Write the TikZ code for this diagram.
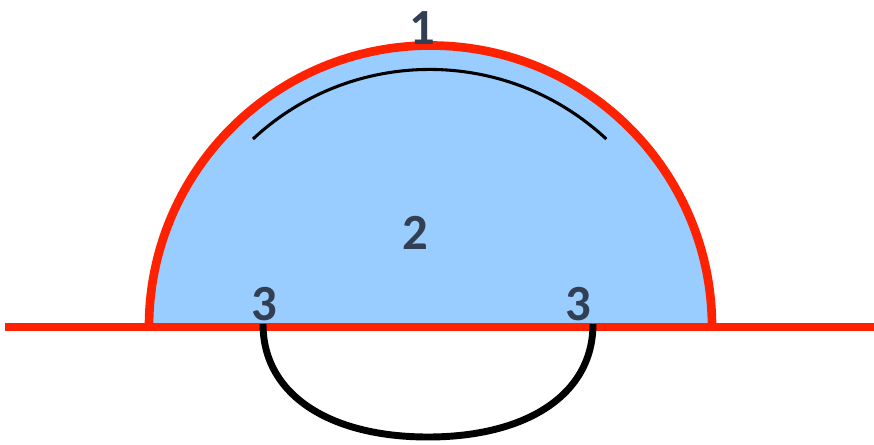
\documentclass[tikz,border=0pt]{standalone}
\usepackage{fontspec}
\setmainfont{Carlito}
\definecolor{fillblue}{RGB}{153,204,255}
\definecolor{edgered}{RGB}{255,34,0}
\definecolor{labelcol}{RGB}{50,63,82}
\begin{document}
\begin{tikzpicture}[x=0.75pt,y=-0.75pt,
  redline/.style={draw=edgered,line width=6.5pt},
  blackarc/.style={draw=black,line width=2.3pt},
  cup/.style={draw=black,line width=5.2pt,line join=round},
  lbl/.style={font=\bfseries\fontsize{38}{40}\selectfont,text=labelcol,anchor=base,inner sep=0pt}]
\useasboundingbox (0,0) rectangle (874,444);
\coordinate (cl) at (149,327);
\coordinate (cr) at (712,327);
\coordinate (ll) at (5,327);
\coordinate (lr) at (874,327);
% dome
\fill[fillblue] (cl) arc[start angle=180,end angle=0,radius=281.5*0.75pt] -- cycle;
\draw[redline] (cl) arc[start angle=180,end angle=0,radius=281.5*0.75pt];
\draw[redline] (ll) -- (lr);
% inner arc
\coordinate (as) at (253,139);
\draw[blackarc] (as) arc[start angle=133,end angle=47,radius=259*0.75pt];
% cup below
\coordinate (ua) at (263,324);
\coordinate (ub) at (428,437);
\coordinate (uc) at (593,324);
\draw[cup] (ua) .. controls (263,395) and (330,437) .. (ub)
                .. controls (526,437) and (593,395) .. (uc);
% labels
\node[lbl] (n1) at (422,44) {1};
\node[lbl] (n2) at (415,249) {2};
\node[lbl] (n3a) at (264,320) {3};
\node[lbl] (n3b) at (578,320) {3};
\end{tikzpicture}
\end{document}
